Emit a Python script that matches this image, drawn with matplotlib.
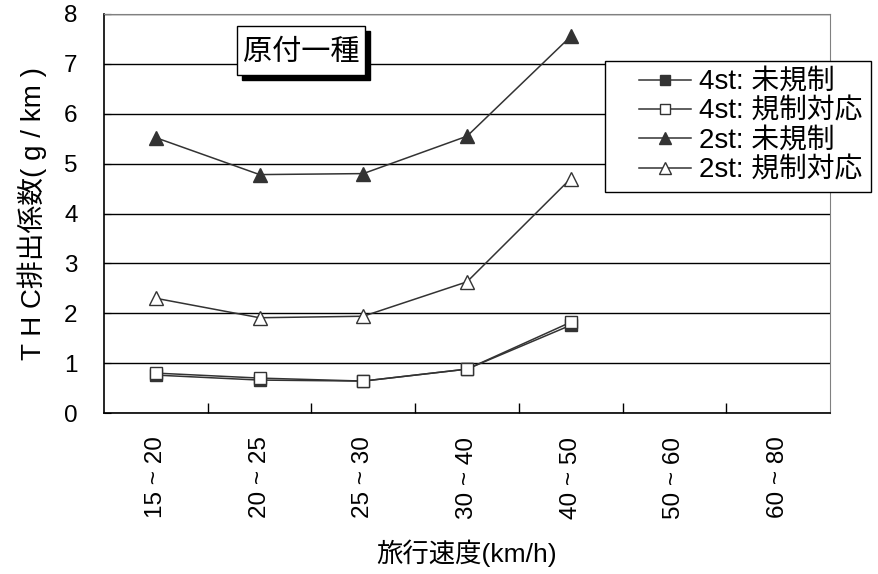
import matplotlib
matplotlib.use("Agg")
import matplotlib.pyplot as plt
from matplotlib import font_manager
from matplotlib.legend_handler import HandlerLine2D
from matplotlib.patches import Rectangle
import numpy as np

plt.rcParams['font.family'] = ['Noto Sans CJK JP', 'DejaVu Sans']
installed = {f.name for f in font_manager.fontManager.ttflist}
narrow = 'Liberation Sans Narrow' if 'Liberation Sans Narrow' in installed else 'Liberation Sans'
LAT = ['Liberation Sans', 'Noto Sans CJK JP', 'DejaVu Sans']

categories = ["15 ~ 20", "20 ~ 25", "25 ~ 30", "30 ~ 40", "40 ~ 50", "50 ~ 60", "60 ~ 80"]
st4_unreg = [0.76, 0.66, 0.64, 0.88, 1.76]
st4_reg = [0.80, 0.70, 0.64, 0.88, 1.82]
st2_unreg = [5.52, 4.78, 4.80, 5.55, 7.55]
st2_reg = [2.30, 1.91, 1.94, 2.63, 4.70]
labels = ["4st: 未規制", "4st: 規制対応", "2st: 未規制", "2st: 規制対応"]
title_text = "原付一種"
xlabel = "旅行速度(km/h)"
ylabel = "T H C排出係数( g / km )"

fig = plt.figure(figsize=(8.79, 5.74), dpi=100)
ax = fig.add_axes([104/879, 1-413/574, (830-104)/879, (413-14)/574])

x = np.arange(len(categories))
lc = '#333333'
n = len(st4_unreg)
ax.plot(x[:n], st4_unreg, color=lc, lw=1.1, marker='s', ms=9, mfc=lc, mec=lc, label=labels[0], zorder=3)
ax.plot(x[:n], st4_reg, color=lc, lw=1.1, marker='s', ms=9, mfc='white', mec=lc, label=labels[1], zorder=4)
ax.plot(x[:n], st2_unreg, color=lc, lw=1.1, marker='^', ms=10, mfc=lc, mec=lc, label=labels[2], zorder=3)
ax.plot(x[:n], st2_reg, color=lc, lw=1.1, marker='^', ms=10, mfc='white', mec=lc, label=labels[3], zorder=3)

ax.set_xlim(-0.5, len(categories) - 0.5)
ax.set_ylim(0, 8)
ax.set_yticks(range(0, 9))
ax.yaxis.grid(True, color='black', lw=1)
ax.set_axisbelow(True)

ax.set_xticks(x)
ax.set_xticklabels(categories, rotation=90, fontsize=17.5, family=LAT)
ax.set_xticks(np.arange(0.5, len(categories) - 0.5, 1), minor=True)
ax.tick_params(axis='x', which='major', length=0, pad=17)
ax.tick_params(axis='x', which='minor', direction='in', length=7, width=1, color='black')
ax.tick_params(axis='y', direction='in', length=5, labelsize=17.5, pad=19)
for t in ax.get_yticklabels():
    t.set_family(LAT)

for s in ['top', 'right']:
    ax.spines[s].set_color('#808080')
for s in ['left', 'bottom']:
    ax.spines[s].set_color('black')
    ax.spines[s].set_linewidth(1.2)

ax.set_xlabel(xlabel, fontsize=19, labelpad=15, family=[narrow, 'Noto Sans CJK JP', 'DejaVu Sans'])
ax.set_ylabel(ylabel, fontsize=20, labelpad=12, family=LAT)

# title box with shadow
ttl = ax.text(1.4, 7.23, title_text, fontsize=21, ha='center', va='center', color='black', zorder=7)


class ShiftedHandler(HandlerLine2D):
    def get_xdata(self, legend, xdescent, ydescent, width, height, fontsize):
        x0 = -xdescent + width * 0.33
        x1 = -xdescent + width
        return np.array([x0, x1]), np.array([(x0 + x1) / 2])


handles, lbls = ax.get_legend_handles_labels()
leg = fig.legend(handles, lbls, loc='upper left', bbox_to_anchor=(605/879, 1-61/574),
                 bbox_transform=fig.transFigure,
                 prop={'family': LAT, 'size': 20}, frameon=True, fancybox=False,
                 edgecolor='black', framealpha=1, borderaxespad=0, handlelength=2.8,
                 handletextpad=0.3, labelspacing=0.12, borderpad=0.3, markerscale=0.8,
                 handler_map={h: ShiftedHandler() for h in handles})
leg.get_frame().set_linewidth(1)

fig.canvas.draw()
bb = ttl.get_window_extent()
W, H = fig.bbox.width, fig.bbox.height
padx = 6
cy = (bb.y0 + bb.y1) / 2 + 2
x0, x1 = bb.x0 - padx, bb.x1 + padx
y0, y1 = cy - 24.5, cy + 24.5
ax.add_patch(Rectangle(((x0 + 5) / W, (y0 - 5) / H), (x1 - x0) / W, (y1 - y0) / H,
                       transform=fig.transFigure, fc='black', ec='black', clip_on=False, zorder=5))
ax.add_patch(Rectangle((x0 / W, y0 / H), (x1 - x0) / W, (y1 - y0) / H,
                       transform=fig.transFigure, fc='white', ec='black', lw=1, clip_on=False, zorder=6))

fig.savefig('out.png', dpi=100)
